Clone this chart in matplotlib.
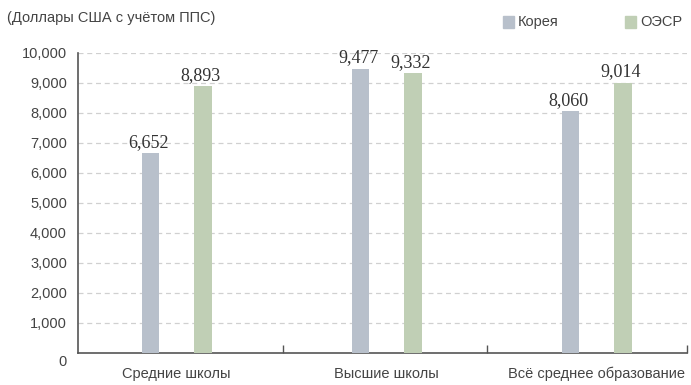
import matplotlib
matplotlib.use("Agg")
import matplotlib.pyplot as plt
import matplotlib.transforms as mtransforms
from matplotlib.patches import Rectangle
from matplotlib.ticker import FuncFormatter, FixedLocator

categories = ["Средние школы", "Высшие школы", "Всё среднее образование"]
korea = [6652, 9477, 8060]
oecd = [8893, 9332, 9014]
series_names = ["Корея", "ОЭСР"]
unit_label = "(Доллары США с учётом ППС)"

c_korea = "#b8c0cb"
c_oecd = "#c0cfb5"
narrow = ["Liberation Sans Narrow", "Liberation Sans", "DejaVu Sans"]
serif = ["Liberation Serif", "DejaVu Serif"]

fig = plt.figure(figsize=(6.91, 3.85), dpi=100)
ax = fig.add_axes([78 / 691, 32 / 385, 609 / 691, 300 / 385])

x = list(range(len(categories)))
w = 0.082
off = 0.125
ax.bar([i - off for i in x], korea, width=w, color=c_korea, zorder=3)
ax.bar([i + off for i in x], oecd, width=w, color=c_oecd, zorder=3)

for i in x:
    ax.text(i - off - 0.01, korea[i] + 80, f"{korea[i]:,}", ha="center", va="bottom",
            family=serif, fontsize=13, color="#333333", zorder=4)
    ax.text(i + off - 0.01, oecd[i] + 80, f"{oecd[i]:,}", ha="center", va="bottom",
            family=serif, fontsize=13, color="#333333", zorder=4)

ax.set_xlim(-0.47, 2.43)
ax.set_ylim(0, 10000)
ax.set_yticks(range(0, 10001, 1000))
ax.yaxis.set_major_formatter(FuncFormatter(lambda v, p: f"{int(v):,}"))
for v in range(1000, 10001, 1000):
    ax.axhline(v, color="#d0d0d0", lw=0.9, ls=(0, (4, 3)), zorder=1)

ax.set_xticks(x)
ax.set_xticklabels(categories)
ax.tick_params(axis="x", length=0, pad=10, labelsize=10.5, labelcolor="#444444")
ax.tick_params(axis="y", length=0, pad=8, labelsize=10.5, labelcolor="#444444")
for lab in ax.get_xticklabels() + ax.get_yticklabels():
    lab.set_family(narrow)

# the zero label sits a little under the baseline
zero_lab = ax.get_yticklabels()[0]
zero_lab.set_transform(zero_lab.get_transform()
                       + mtransforms.ScaledTranslation(0, -8 / 100, fig.dpi_scale_trans))

# group separators on the baseline
ax.xaxis.set_minor_locator(FixedLocator([0.505, 1.476, 2.43]))
ax.tick_params(axis="x", which="minor", direction="in", length=6, width=1, color="#555555")

for s in ["top", "right"]:
    ax.spines[s].set_visible(False)
for s in ["left", "bottom"]:
    ax.spines[s].set_color("#555555")
    ax.spines[s].set_linewidth(1.2)

fig.text(7 / 691, 1 - 18 / 385, unit_label, family=narrow, fontsize=10.5,
         color="#444444", va="center", ha="left")

# legend
for name, col, xs in [(series_names[0], c_korea, 503), (series_names[1], c_oecd, 625)]:
    fig.patches.append(Rectangle((xs / 691, 1 - 28 / 385), 11 / 691, 12 / 385,
                                 transform=fig.transFigure, color=col))
    fig.text((xs + 15) / 691, 1 - 22 / 385, name, family=narrow, fontsize=10.5,
             color="#444444", va="center", ha="left")

fig.savefig("out.png", dpi=100)
